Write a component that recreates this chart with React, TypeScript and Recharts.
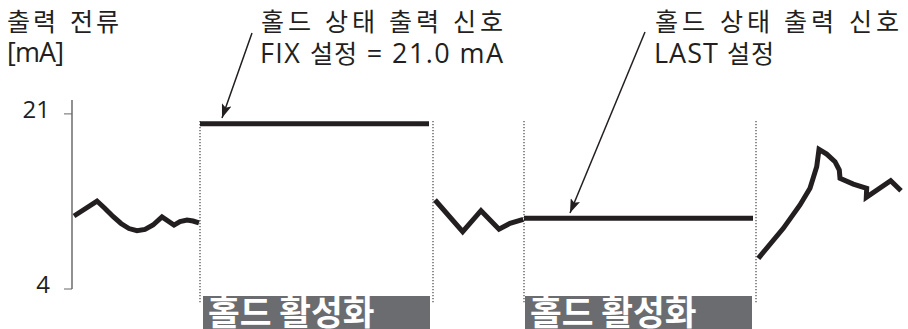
import React from "react";
import {
  LineChart,
  Line,
  XAxis,
  YAxis,
  ReferenceLine,
  ReferenceArea,
} from "recharts";

// time axis (arbitrary units) and output current in mA
const seg1T = [2, 25, 33, 41, 49, 57, 65, 73, 81, 90, 102, 108, 115, 121, 127];
const seg1V = [11.09, 12.54, 11.82, 11.04, 10.36, 9.87, 9.66, 9.78, 10.21, 10.99, 10.21, 10.55, 10.7, 10.6, 10.41];

const fixT = [128, 357];
const fixV = [20.05, 20.05];

const seg3T = [363, 390.7, 409, 427, 438, 451.3];
const seg3V = [12.64, 9.56, 11.6, 9.8, 10.38, 10.77];

const lastT = [452, 681];
const lastV = [10.86, 10.86];

const seg5T = [686.3, 711.3, 728, 738, 744.7, 747, 754.7, 763, 767.3, 768, 781.3, 794.7, 794.3, 818.7, 829];
const seg5V = [6.98, 9.89, 12.16, 13.78, 15.87, 17.56, 17.1, 16.36, 15.55, 14.75, 14.19, 13.78, 12.9, 14.51, 13.54];

const holdBoundaries = [128, 361, 452, 684];
const holdWindows = [
  [131, 358],
  [453, 680],
];
const yTicks = [4, 21];
const holdLabel = "홀드 활성화";
const yTitle = ["출력 전류", "[mA]"];
const fixNote = ["홀드 상태 출력 신호", "FIX 설정 = 21.0 mA"];
const lastNote = ["홀드 상태 출력 신호", "LAST 설정"];

const toRows = (t: number[], v: number[]) => t.map((x, i) => ({ t: x, v: v[i] }));

const INK = "#231f20";
const FONT = "'Open Sans', KRX, 'Noto Sans CJK KR', sans-serif";
const KFONT = "'Noto Sans CJK KR', sans-serif";

const css = `
body{margin:0}
@font-face{font-family:KRX;src:local('Noto Sans CJK KR'),local('NotoSansCJKkr-Regular');size-adjust:93%;font-weight:400;}
`;

const YTick = (props: any) => {
  const { x, y, payload } = props;
  return (
    <text x={x} y={y + 4} textAnchor="end" fill={INK} fontSize={24} fontFamily={FONT}>
      {payload.value}
    </text>
  );
};

export default function App() {
  const series = [
    toRows(seg1T, seg1V),
    toRows(fixT, fixV),
    toRows(seg3T, seg3V),
    toRows(lastT, lastV),
    toRows(seg5T, seg5V),
  ];
  return (
    <div style={{ position: "relative", width: 908, height: 329 }}>
      <style>{css}</style>
      <LineChart
        width={908}
        height={329}
        margin={{ top: 100, right: 3, bottom: 40, left: 0 }}
      >
        <XAxis
          type="number"
          dataKey="t"
          domain={[0, 833]}
          tick={false}
          tickLine={false}
          height={0}
          axisLine={{ stroke: "#333", strokeWidth: 1.5 }}
          allowDataOverflow
        />
        <YAxis
          type="number"
          dataKey="v"
          domain={[4, 22.35]}
          ticks={yTicks}
          width={72}
          tickSize={8}
          tickMargin={14}
          axisLine={{ stroke: "#555", strokeWidth: 1.3 }}
          tickLine={{ stroke: "#666", strokeWidth: 1 }}
          tick={<YTick />}
          allowDataOverflow
        />
        {holdBoundaries.map((x) => (
          <ReferenceLine
            key={x}
            segment={[
              { x, y: 20.31 },
              { x, y: 2.64 },
            ]}
            stroke="#444"
            strokeWidth={1.2}
            strokeDasharray="1.2 1.8"
            ifOverflow="visible"
          />
        ))}
        {holdWindows.map(([a, b]) => (
          <ReferenceArea
            key={a}
            x1={a}
            x2={b}
            y1={3.32}
            y2={0.1}
            fill="#6b6c70"
            fillOpacity={1}
            stroke="none"
            ifOverflow="visible"
            label={{
              value: holdLabel,
              position: "insideLeft",
              offset: 5,
              fill: "#ffffff",
              fontSize: 34.5,
              fontWeight: 700,
              fontFamily: KFONT,
            }}
          />
        ))}
        {series.map((d, i) => (
          <Line
            key={i}
            data={d}
            dataKey="v"
            type="linear"
            stroke={INK}
            strokeWidth={5}
            dot={false}
            activeDot={false}
            isAnimationActive={false}
            strokeLinejoin="miter"
            strokeLinecap="butt"
          />
        ))}
      </LineChart>
      <svg
        width={908}
        height={329}
        style={{ position: "absolute", left: 0, top: 0, pointerEvents: "none" }}
      >
        <defs>
          <marker
            id="ah"
            viewBox="0 0 14 10"
            refX="14"
            refY="5"
            markerWidth="14"
            markerHeight="10"
            markerUnits="userSpaceOnUse"
            orient="auto"
          >
            <path d="M0,0 L14,5 L0,10 L3,5 Z" fill={INK} />
          </marker>
        </defs>
        <g fontFamily={FONT} fontSize={27} fill={INK}>
          <text x={7} y={31} textLength={112} lengthAdjust="spacing">{yTitle[0]}</text>
          <text x={7} y={62} textLength={57} lengthAdjust="spacing">{yTitle[1]}</text>
          <text x={261} y={31} textLength={242} lengthAdjust="spacing">{fixNote[0]}</text>
          <text x={260} y={63} textLength={243} lengthAdjust="spacing">{fixNote[1]}</text>
          <text x={655} y={31} textLength={244} lengthAdjust="spacing">{lastNote[0]}</text>
          <text x={654} y={63} textLength={120} lengthAdjust="spacing">{lastNote[1]}</text>
        </g>
        <line x1={252} y1={33} x2={222} y2={118} stroke={INK} strokeWidth={1.5} markerEnd="url(#ah)" />
        <line x1={645} y1={32} x2={570} y2={213} stroke={INK} strokeWidth={1.5} markerEnd="url(#ah)" />
      </svg>
    </div>
  );
}
